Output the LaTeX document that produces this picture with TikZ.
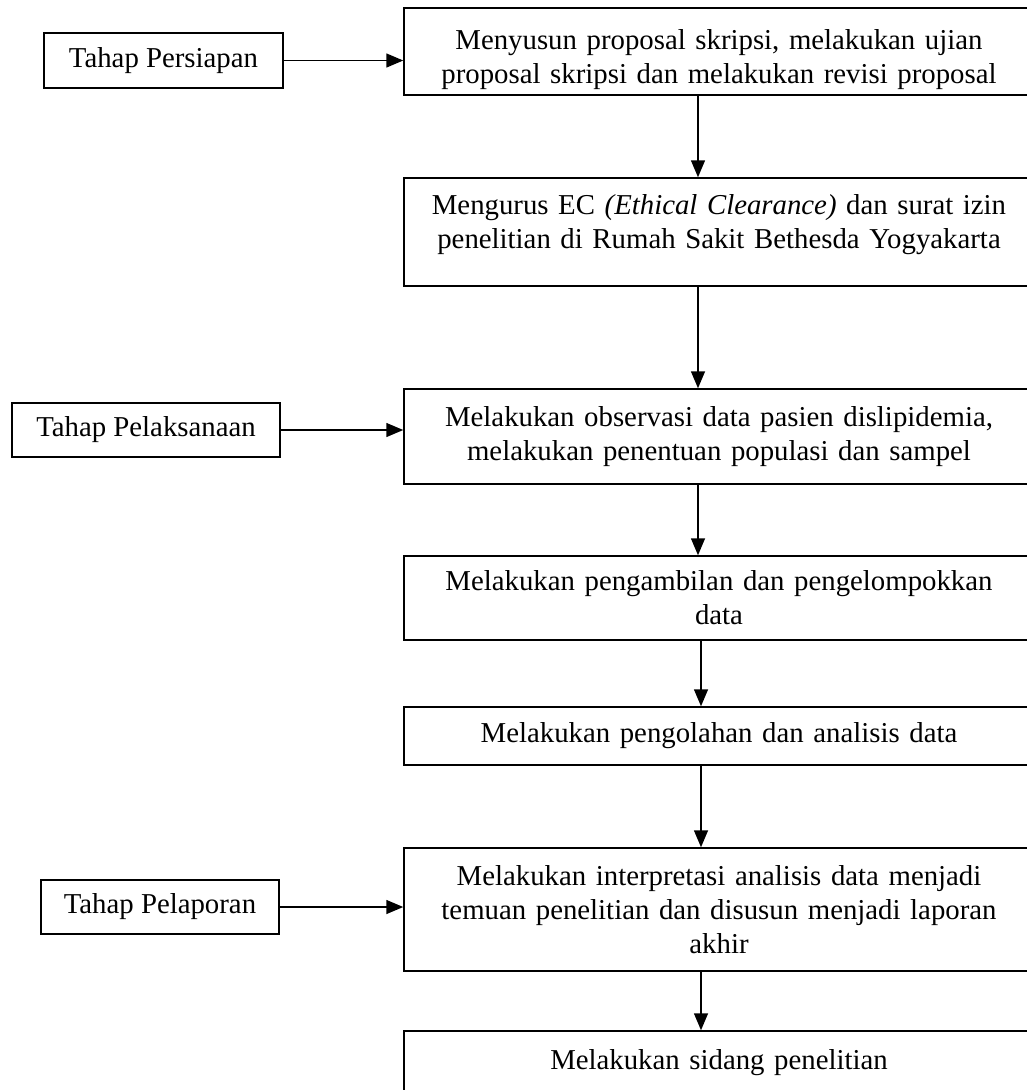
\documentclass[tikz,border=0pt]{standalone}
\usepackage{fontspec}
\setmainfont{Liberation Serif}
\usetikzlibrary{arrows.meta}
\begin{document}
\begin{tikzpicture}[x=1pt,y=-1pt,
  font=\fontsize{28.8}{34}\selectfont,
  mainbox/.style={draw, line width=1.5pt, minimum width=630pt, text width=620pt, align=center, inner sep=0pt},
  sidebox/.style={draw, line width=1.5pt, align=center, inner sep=0pt},
  arr/.style={line width=1.5pt, -{Triangle[length=17pt,width=14pt]}}]
\useasboundingbox (0,0) rectangle (1026,1090);
\node[mainbox, minimum height=87pt] (m1) at (719,51.5) {\rule{0pt}{36pt}Menyusun proposal skripsi, melakukan ujian\\proposal skripsi dan melakukan revisi proposal};
\node[mainbox, minimum height=108pt] (m2) at (719,232) {Mengurus EC {\itshape (Ethical Clearance)} dan surat izin\\penelitian di Rumah Sakit Bethesda Yogyakarta\\[-14pt]\mbox{}};
\node[mainbox, minimum height=95pt] (m3) at (719,436.5) {Melakukan observasi data pasien dislipidemia,\\melakukan penentuan populasi dan sampel};
\node[mainbox, minimum height=84pt] (m4) at (719,598) {Melakukan pengambilan dan pengelompokkan\\data};
\node[mainbox, minimum height=58pt] (m5) at (719,736) {Melakukan pengolahan dan analisis data};
\node[mainbox, minimum height=123pt] (m6) at (719,909.5) {Melakukan interpretasi analisis data menjadi\\temuan penelitian dan disusun menjadi laporan\\akhir};
\node[mainbox, minimum height=64pt] (m7) at (719,1063) {Melakukan sidang penelitian};
\node[sidebox, minimum width=239pt, minimum height=55pt] (s1) at (163.5,60.5) {Tahap Persiapan};
\node[sidebox, minimum width=268pt, minimum height=54pt] (s2) at (146,430) {Tahap Pelaksanaan};
\node[sidebox, minimum width=238pt, minimum height=54pt] (s3) at (160,907) {Tahap Pelaporan};
\coordinate (xa) at (698,0);
\coordinate (xb) at (701,0);
\draw[arr] (s1.east) -- (s1.east -| m1.west);
\draw[arr] (s2.east) -- (s2.east -| m3.west);
\draw[arr] (s3.east) -- (s3.east -| m6.west);
\draw[arr] (m1.south -| xa) -- (m2.north -| xa);
\draw[arr] (m2.south -| xa) -- (m3.north -| xa);
\draw[arr] (m3.south -| xa) -- (m4.north -| xa);
\draw[arr] (m4.south -| xb) -- (m5.north -| xb);
\draw[arr] (m5.south -| xb) -- (m6.north -| xb);
\draw[arr] (m6.south -| xb) -- (m7.north -| xb);
\end{tikzpicture}
\end{document}
